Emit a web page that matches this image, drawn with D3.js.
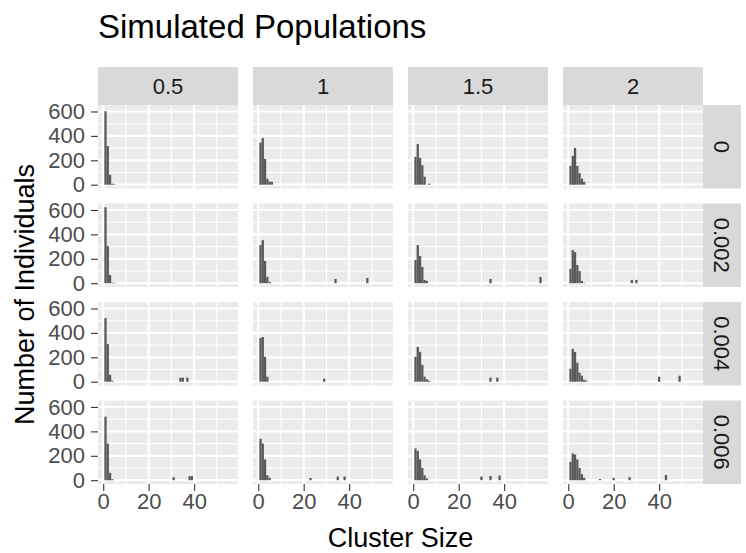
<!DOCTYPE html>
<html>
<head>
<meta charset="utf-8">
<script src="https://cdn.jsdelivr.net/npm/d3@7"></script>
<style>
  body { margin: 0; background: #fff; }
  text { font-family: "Liberation Sans", Arial, sans-serif; }
</style>
</head>
<body>
<div id="chart"></div>
<script>
// facet labels
const colLabels = ["0.5", "1", "1.5", "2"];
const rowLabels = ["0", "0.002", "0.004", "0.006"];
const xTicks = [0, 20, 40];
const yTicks = [0, 200, 400, 600];

// individuals per cluster size, first value is size 1 (row_col)
const small_0_05 = [602, 317, 81, 8, 4];
const small_0_1 = [345, 382, 211, 49, 27, 24];
const small_0_15 = [228, 333, 220, 160, 65, 0, 8];
const small_0_2 = [154, 236, 301, 154, 95, 49, 24];
const small_002_05 = [622, 304, 68, 5, 3];
const small_002_1 = [312, 353, 182, 52, 11];
const small_002_15 = [190, 312, 223, 133, 27, 19];
const small_002_2 = [117, 271, 255, 149, 100, 19, 3];
const small_004_05 = [521, 310, 57, 8];
const small_004_1 = [358, 366, 204, 41];
const small_004_15 = [204, 285, 244, 138, 41, 20, 8];
const small_004_2 = [106, 269, 244, 155, 73, 49, 16, 8];
const small_006_05 = [520, 300, 60, 8];
const small_006_1 = [340, 300, 170, 40, 20];
const small_006_15 = [260, 240, 170, 100, 40, 15];
const small_006_2 = [150, 220, 210, 170, 100, 50, 20];

// the odd large clusters: [cluster size, individuals]
const big_0_05 = [];
const big_0_1 = [];
const big_0_15 = [];
const big_0_2 = [];
const big_002_05 = [];
const big_002_1 = [[34, 35], [48, 43]];
const big_002_15 = [[34, 35], [56, 52]];
const big_002_2 = [[28, 27], [30, 27]];
const big_004_05 = [[34, 33], [35, 33], [37, 33]];
const big_004_1 = [[29, 24]];
const big_004_15 = [[34, 33], [37, 33]];
const big_004_2 = [[40, 41], [49, 49]];
const big_006_05 = [[31, 25], [38, 33], [39, 33]];
const big_006_1 = [[23, 18], [35, 30], [38, 30]];
const big_006_15 = [[30, 30], [34, 34], [38, 38]];
const big_006_2 = [[14, 10], [20, 20], [27, 25], [43, 43]];

const smalls = [
  [small_0_05, small_0_1, small_0_15, small_0_2],
  [small_002_05, small_002_1, small_002_15, small_002_2],
  [small_004_05, small_004_1, small_004_15, small_004_2],
  [small_006_05, small_006_1, small_006_15, small_006_2]
];
const bigs = [
  [big_0_05, big_0_1, big_0_15, big_0_2],
  [big_002_05, big_002_1, big_002_15, big_002_2],
  [big_004_05, big_004_1, big_004_15, big_004_2],
  [big_006_05, big_006_1, big_006_15, big_006_2]
];

const W = 746, H = 553;
const mLeft = 98, mRight = 703, mTop = 105, mBottom = 484, gap = 15;
const stripSize = 38;
const pw = (mRight - mLeft - 3 * gap) / 4;
const ph = (mBottom - mTop - 3 * gap) / 4;
const tickFont = 22;

const svg = d3.select("#chart").append("svg")
  .attr("width", W)
  .attr("height", H);

// fixed scales shared by all facets, with ggplot's 5% padding
const xMin = 0.5, xMax = 56.5, yMax = 622;
const xPad = (xMax - xMin) * 0.05, yPad = yMax * 0.05;
const x = d3.scaleLinear().domain([xMin - xPad, xMax + xPad]).range([0, pw]);
const y = d3.scaleLinear().domain([-yPad, yMax + yPad]).range([ph, 0]);

const xMinor = [10, 30, 50];
const yMinor = [100, 300, 500];

for (let r = 0; r < 4; r++) {
  for (let c = 0; c < 4; c++) {
    const g = svg.append("g")
      .attr("transform", `translate(${mLeft + c * (pw + gap)},${mTop + r * (ph + gap)})`);

    g.append("rect").attr("width", pw).attr("height", ph).attr("fill", "#EBEBEB");

    g.selectAll(".xminor").data(xMinor).join("line").attr("class", "xminor")
      .attr("x1", x).attr("x2", x).attr("y1", 0).attr("y2", ph)
      .attr("stroke", "#fff").attr("stroke-width", 1.1);
    g.selectAll(".yminor").data(yMinor).join("line").attr("class", "yminor")
      .attr("y1", y).attr("y2", y).attr("x1", 0).attr("x2", pw)
      .attr("stroke", "#fff").attr("stroke-width", 1.1);
    g.selectAll(".xmajor").data(xTicks).join("line").attr("class", "xmajor")
      .attr("x1", x).attr("x2", x).attr("y1", 0).attr("y2", ph)
      .attr("stroke", "#fff").attr("stroke-width", 2.2);
    g.selectAll(".ymajor").data(yTicks).join("line").attr("class", "ymajor")
      .attr("y1", y).attr("y2", y).attr("x1", 0).attr("x2", pw)
      .attr("stroke", "#fff").attr("stroke-width", 2.2);

    const bars = smalls[r][c].map((v, i) => [i + 1, v]).concat(bigs[r][c])
      .filter((d) => d[1] > 0);
    g.selectAll(".bar").data(bars).join("rect").attr("class", "bar")
      .attr("x", (d) => x(d[0] - 0.5))
      .attr("width", (d) => x(d[0] + 0.5) - x(d[0] - 0.5))
      .attr("y", (d) => y(d[1]))
      .attr("height", (d) => y(0) - y(d[1]))
      .attr("fill", "#595959");

    // top strips
    if (r === 0) {
      svg.append("rect")
        .attr("x", mLeft + c * (pw + gap)).attr("y", mTop - stripSize)
        .attr("width", pw).attr("height", stripSize).attr("fill", "#D9D9D9");
      svg.append("text")
        .attr("x", mLeft + c * (pw + gap) + pw / 2).attr("y", mTop - stripSize / 2)
        .attr("dy", "0.35em").attr("text-anchor", "middle")
        .attr("font-size", tickFont).attr("fill", "#1A1A1A")
        .text(colLabels[c]);
    }
    // right strips
    if (c === 3) {
      const sx = mRight, sy = mTop + r * (ph + gap);
      svg.append("rect").attr("x", sx).attr("y", sy)
        .attr("width", stripSize).attr("height", ph).attr("fill", "#D9D9D9");
      svg.append("text")
        .attr("transform", `translate(${sx + stripSize / 2},${sy + ph / 2}) rotate(90)`)
        .attr("dy", "0.35em").attr("text-anchor", "middle")
        .attr("font-size", tickFont).attr("fill", "#1A1A1A")
        .text(rowLabels[r]);
    }
    // y axis on the left column
    if (c === 0) {
      const ay = g.append("g").call(d3.axisLeft(y).tickValues(yTicks).tickSize(7).tickPadding(6));
      ay.select(".domain").remove();
      ay.selectAll("line").attr("stroke", "#333333").attr("stroke-width", 1.1);
      ay.selectAll("text").attr("font-size", tickFont).attr("fill", "#4D4D4D")
        .attr("font-family", "Liberation Sans, Arial, sans-serif");
    }
    // x axis on the bottom row
    if (r === 3) {
      const ax = g.append("g").attr("transform", `translate(0,${ph})`)
        .call(d3.axisBottom(x).tickValues(xTicks).tickSize(7).tickPadding(2));
      ax.select(".domain").remove();
      ax.selectAll("line").attr("stroke", "#333333").attr("stroke-width", 1.1);
      ax.selectAll("text").attr("font-size", tickFont).attr("fill", "#4D4D4D")
        .attr("font-family", "Liberation Sans, Arial, sans-serif");
    }
  }
}

svg.append("text")
  .attr("x", mLeft).attr("y", 38)
  .attr("font-size", 33).attr("fill", "#000")
  .text("Simulated Populations");

svg.append("text")
  .attr("x", (mLeft + mRight) / 2).attr("y", 547)
  .attr("text-anchor", "middle")
  .attr("font-size", 27).attr("fill", "#000")
  .text("Cluster Size");

svg.append("text")
  .attr("transform", `translate(34,${(mTop + mBottom) / 2}) rotate(-90)`)
  .attr("text-anchor", "middle")
  .attr("font-size", 27).attr("fill", "#000")
  .text("Number of Individuals");
</script>
</body>
</html>
